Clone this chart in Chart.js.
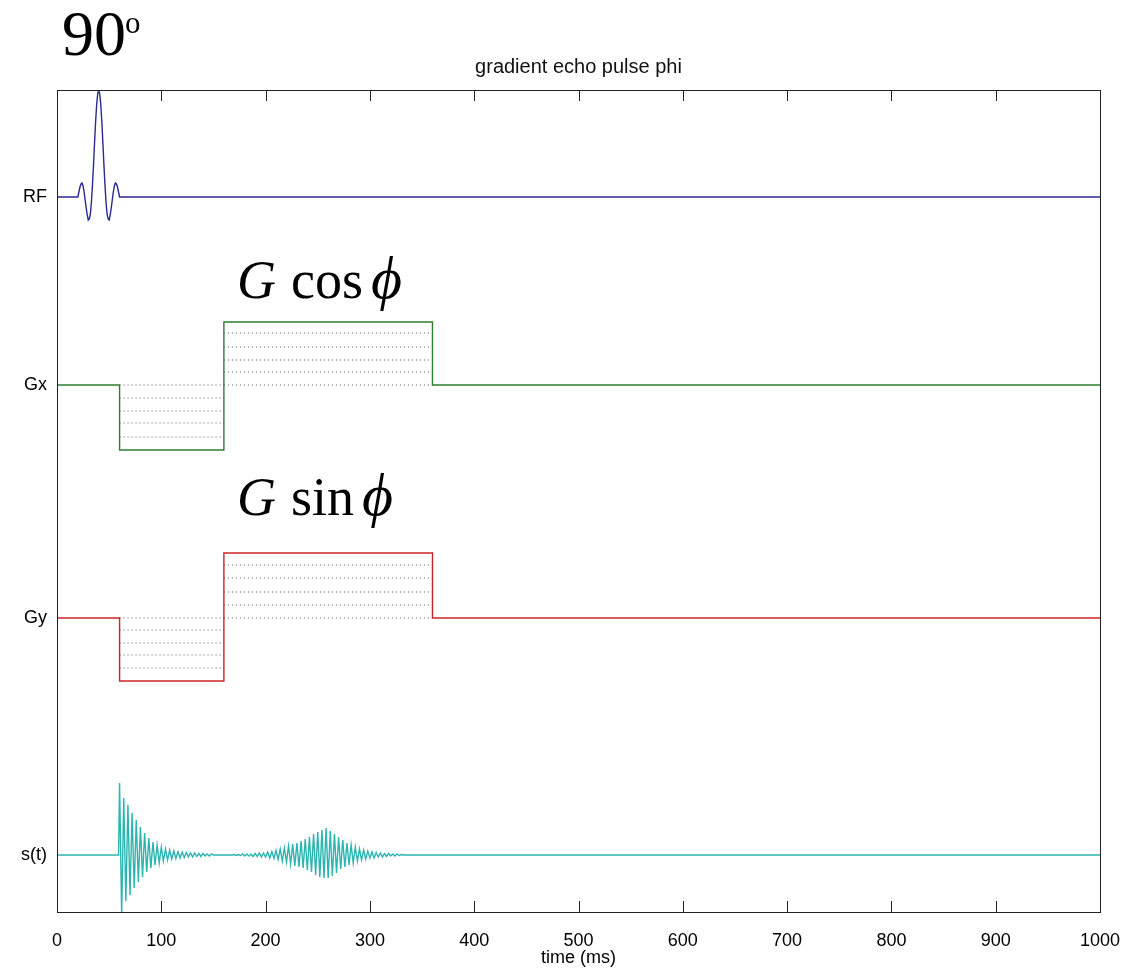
<!DOCTYPE html>
<html>
<head>
<meta charset="utf-8">
<title>gradient echo pulse phi</title>
<script src="https://cdn.jsdelivr.net/npm/chart.js@4.4.1/dist/chart.umd.min.js"></script>
<style>
  body { margin: 0; background: #fff; }
  canvas { display: block; }
</style>
</head>
<body>
<canvas id="pulse" width="1122" height="977"></canvas>
<script>
// channel names and where each trace sits on the (arbitrary) y axis
const chanNames = ['RF', 'Gx', 'Gy', 's(t)'];
const chanBase = [715, 527, 294, 57];
const xTicks = [0, 100, 200, 300, 400, 500, 600, 700, 800, 900, 1000];

// RF sinc pulse
const rfTime = [20, 21, 22, 23, 24, 25, 26, 27, 28, 29, 30, 31, 32, 33, 34, 35, 36, 37, 38, 39, 40,
                41, 42, 43, 44, 45, 46, 47, 48, 49, 50, 51, 52, 53, 54, 55, 56, 57, 58, 59, 60];
const rfAmp = [0, 5, 10, 13, 14, 11, 5, -3, -11, -18, -23, -22, -17, -5, 12, 32, 54, 75, 92, 103, 107,
               103, 92, 75, 54, 32, 12, -5, -17, -22, -23, -18, -11, -3, 5, 11, 14, 13, 10, 5, 0];

// gradient waveforms
const gTime = [0, 60, 60, 160, 160, 360, 360, 1000];
const gxAmp = [0, 0, -65, -65, 63, 63, 0, 0];
const gyAmp = [0, 0, -63, -63, 65, 65, 0, 0];

// dotted phase steps inside each lobe
const negSpan = [60, 160];
const posSpan = [160, 360];
const gxNegLevels = [0, -13, -26, -38, -52];
const gxPosLevels = [0, 13, 25, 38, 52];
const gyNegLevels = [0, -12, -25, -37, -50];
const gyPosLevels = [0, 13, 26, 40, 53];

// signal: FID after the pulse, then the echo (one sample every 2 ms)
const sigStep = 2;
const fidStart = 60;
const fidAmp = [72, -60, 57, -46, 50, -40, 42, -33, 35, -27, 28, -22, 22, -17, 17, -13, 13, -10, 10, -8,
                8, -6, 6, -5, 5, -4, 4, -3.5, 3.5, -3, 3, -2.5, 2.5, -2, 2, -2, 2, -1.5, 1.5, -1.5,
                1.5, -1, 1, -1, 1, 0];
const echoStart = 170;
const echoAmp = [0.5, -0.5, 0.5, -0.5, 1, -1, 1, -1, 1, -1.5, 1.5, -1.5, 2, -2, 2, -2, 3, -3, 3.5, -3.5,
                 4.5, -4.5, 6, -6, 7, -7, 9, -9, 11, -11, 12, -12, 14, -13, 16, -15, 18, -17, 21, -20,
                 23, -22, 25, -23, 27, -23, 24, -21, 21, -18, 18, -14, 15, -12, 12, -10, 10, -8, 8, -6,
                 6, -5, 5, -4, 4, -3, 3, -3, 2.5, -2, 2, -2, 1.5, -1.5, 1.5, -1, 1, -1, 1, -0.5, 0.5];

const colors = ['#2a2a92', '#2f7f32', '#cc2424', '#2cb5b0'];

function trace(base, times, amps) {
    return times.map((t, i) => ({ x: t, y: base + amps[i] }));
}

function steps(base, span, levels) {
    let pts = [];
    levels.forEach(l => {
        pts.push({ x: span[0], y: base + l });
        pts.push({ x: span[1], y: base + l });
        pts.push({ x: span[1], y: null });
    });
    return pts;
}

function signal(base) {
    let pts = [{ x: 0, y: base }, { x: fidStart - 1, y: base }];
    fidAmp.forEach((v, i) => pts.push({ x: fidStart + i * sigStep, y: base + v }));
    pts.push({ x: echoStart - sigStep, y: base });
    echoAmp.forEach((v, i) => pts.push({ x: echoStart + i * sigStep, y: base + v }));
    pts.push({ x: echoStart + echoAmp.length * sigStep, y: base });
    pts.push({ x: 1000, y: base });
    return pts;
}

const rfData = [{ x: 0, y: chanBase[0] }, ...trace(chanBase[0], rfTime, rfAmp), { x: 1000, y: chanBase[0] }];

const solid = (data, color) => ({
    data: data, borderColor: color, borderWidth: 1.4, pointRadius: 0, tension: 0, fill: false
});
const dotted = (data) => ({
    data: data, borderColor: '#555', borderWidth: 1, borderDash: [1, 3], pointRadius: 0,
    tension: 0, fill: false, spanGaps: false
});

const serif = '"Liberation Serif", "Times New Roman", serif';
const sans = '"Liberation Sans", Arial, sans-serif';

const frame = {
    id: 'frame',
    afterDraw(chart) {
        const { ctx, chartArea: a, scales: { x } } = chart;
        ctx.save();
        ctx.strokeStyle = '#222';
        ctx.lineWidth = 1;
        ctx.strokeRect(a.left + 0.5, a.top + 0.5, a.right - a.left, a.bottom - a.top);
        ctx.beginPath();
        x.ticks.forEach(t => {
            const px = Math.round(x.getPixelForValue(t.value)) + 0.5;
            ctx.moveTo(px, a.bottom);
            ctx.lineTo(px, a.bottom - 11);
            ctx.moveTo(px, a.top);
            ctx.lineTo(px, a.top + 11);
        });
        ctx.stroke();

        // hand-written annotations
        ctx.fillStyle = '#000';
        ctx.textBaseline = 'alphabetic';
        ctx.font = '64px ' + serif;
        ctx.fillText('90', 62, 55);
        ctx.font = '31px ' + serif;
        ctx.fillText('o', 125, 33);

        const label = (word, y) => {
            ctx.font = 'italic 54px ' + serif;
            ctx.fillText('G', 237, y);
            ctx.font = '54px ' + serif;
            ctx.fillText(word, 291, y);
            const w = ctx.measureText(word).width;
            ctx.font = 'italic 60px ' + serif;
            ctx.fillText('\u03D5', 291 + w + 8, y);
        };
        label('cos', 298);
        label('sin', 515);
        ctx.restore();
    }
};

new Chart(document.getElementById('pulse'), {
    type: 'line',
    data: {
        datasets: [
            solid(rfData, colors[0]),
            solid(trace(chanBase[1], gTime, gxAmp), colors[1]),
            solid(trace(chanBase[2], gTime, gyAmp), colors[2]),
            solid(signal(chanBase[3]), colors[3]),
            dotted([...steps(chanBase[1], negSpan, gxNegLevels), ...steps(chanBase[1], posSpan, gxPosLevels)]),
            dotted([...steps(chanBase[2], negSpan, gyNegLevels), ...steps(chanBase[2], posSpan, gyPosLevels)])
        ]
    },
    options: {
        responsive: false,
        animation: false,
        layout: { padding: { top: 0, right: 22, left: 0, bottom: 0 } },
        plugins: {
            legend: { display: false },
            tooltip: { enabled: false },
            title: {
                display: true,
                text: 'gradient echo pulse phi',
                fullSize: false,
                color: '#111',
                font: { family: sans, size: 20, weight: 'normal' },
                padding: { top: 55, bottom: 11 }
            }
        },
        scales: {
            x: {
                type: 'linear',
                min: 0,
                max: 1000,
                afterBuildTicks: s => { s.ticks = xTicks.map(v => ({ value: v })); },
                afterFit: s => { s.height = 65; s.paddingLeft = 0; s.paddingRight = 0; },
                grid: { display: false, drawTicks: false },
                border: { display: false },
                ticks: {
                    color: '#000',
                    padding: 18,
                    maxRotation: 0,
                    font: { family: sans, size: 18 },
                    callback: v => String(v)
                },
                title: {
                    display: true,
                    text: 'time (ms)',
                    color: '#000',
                    padding: { top: 0, bottom: 8 },
                    font: { family: sans, size: 18 }
                }
            },
            y: {
                type: 'linear',
                min: 0,
                max: 822,
                afterBuildTicks: s => { s.ticks = chanBase.map(v => ({ value: v })); },
                afterFit: s => { s.width = 57; },
                grid: { display: false, drawTicks: false },
                border: { display: false },
                ticks: {
                    color: '#000',
                    padding: 10,
                    font: { family: sans, size: 18 },
                    callback: v => chanNames[chanBase.indexOf(v)]
                }
            }
        }
    },
    plugins: [frame]
});
</script>
</body>
</html>
